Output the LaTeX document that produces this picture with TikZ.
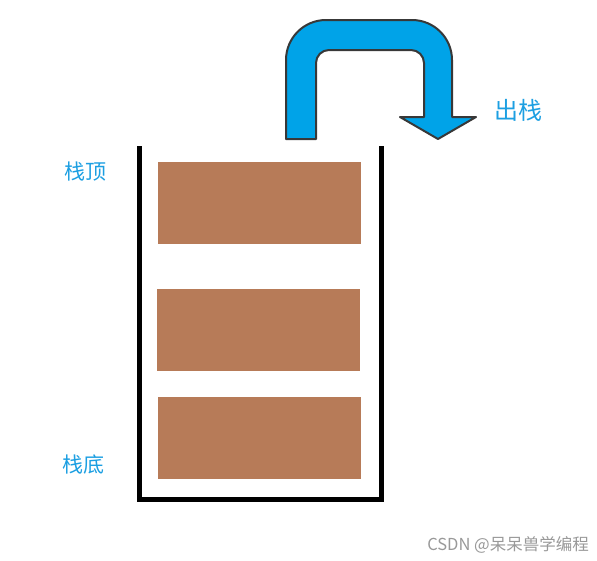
\documentclass[tikz,border=0pt]{standalone}
\usepackage{fontspec}
\newfontfamily\cjk{Noto Sans CJK SC}
\usetikzlibrary{positioning}

\begin{document}
\begin{tikzpicture}[x=1pt, y=-1pt,
  item/.style={fill=brick, draw=none, inner sep=0pt, minimum width=203pt, minimum height=82pt},
  wall/.style={line width=5pt, draw=black},
  tag/.style={text=sky, font=\cjk\fontsize{21}{21}\selectfont, inner sep=0pt}]
  \definecolor{brick}{HTML}{B77B58}
  \definecolor{sky}{HTML}{1C9FE2}
  \definecolor{flow}{HTML}{00A3E8}
  \definecolor{rim}{HTML}{383838}
  \useasboundingbox[fill=white] (0,0) rectangle (597,560);

  % stack container
  \draw[wall] (139.5,146) -- (139.5,499.5) -- (381.5,499.5) -- (381.5,146);

  % elements
  \node[item] (first) at (259.5,203) {};
  \node[item] (second) at (258.5,330) {};
  \node[item] (third) at (259,438) {};

  \node[tag] (topname) at (85,172) {栈顶};
  \node[tag] (bottomname) at (83,465) {栈底};

  % pop arrow
  \draw[fill=flow, draw=rim, line width=2pt, line join=round]
    (286,139) -- (286,60) arc[start angle=180, end angle=90, radius=40pt]
    -- (412,20) arc[start angle=90, end angle=0, radius=40pt]
    -- (452,117) -- (476,117) -- (438,139) -- (400,117) -- (424,117)
    -- (424,63) arc[start angle=0, end angle=90, radius=13pt]
    -- (329,50) arc[start angle=90, end angle=180, radius=13pt]
    -- (316,139) -- cycle;
  \node[tag, font=\cjk\fontsize{24}{24}\selectfont] (popname) at (518,110) {出栈};

  \node[text=gray!80, font=\cjk\fontsize{16.5}{16.5}\selectfont, inner sep=0pt] (mark) at (508,545) {CSDN @呆呆兽学编程};
\end{tikzpicture}
\end{document}
